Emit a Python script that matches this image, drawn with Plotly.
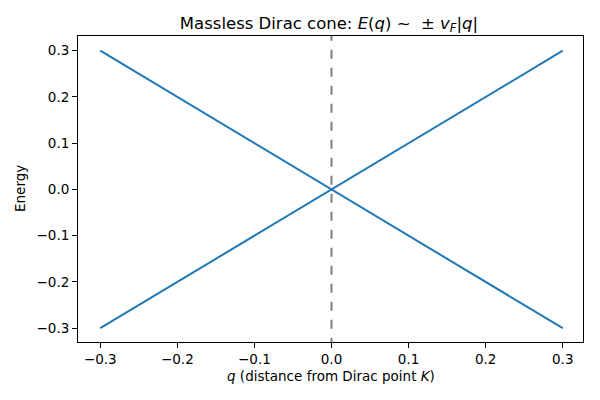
import plotly.graph_objects as go

q = [-0.3, 0.0, 0.3]
E_upper = [-0.3, 0.0, 0.3]
E_lower = [0.3, 0.0, -0.3]
vline_q = [0.0, 0.0]
vline_E = [-0.34, 0.34]
ticks = [-0.3, -0.2, -0.1, 0.0, 0.1, 0.2, 0.3]

fig = go.Figure()
fig.add_trace(go.Scatter(x=q, y=E_upper, mode="lines", line=dict(color="#1f77b4", width=2), showlegend=False))
fig.add_trace(go.Scatter(x=q, y=E_lower, mode="lines", line=dict(color="#1f77b4", width=2), showlegend=False))
fig.add_trace(go.Scatter(x=vline_q, y=vline_E, mode="lines", line=dict(color="grey", width=2, dash="dash"), showlegend=False))

font = dict(family="DejaVu Sans", size=13.5, color="black")
axis_common = dict(
    tickvals=ticks, tickformat=".1f", automargin=False,
    showgrid=False, zeroline=False, showline=True, linecolor="black", linewidth=1,
    mirror=True, ticks="outside", ticklen=5, tickcolor="black",
    tickfont=font,
)
fig.update_layout(
    width=600, height=400,
    margin=dict(l=70, r=25, t=28, b=66),
    plot_bgcolor="white", paper_bgcolor="white",
    title=dict(
        text="Massless Dirac cone: <i>E</i>(<i>q</i>) ~  ± <i>v</i><sub><i>F</i></sub>|<i>q</i>|",
        x=0.535, xanchor="center", xref="container", y=1 - 15 / 400, yref="container", yanchor="middle",
        automargin=False,
        font=dict(family="DejaVu Sans", size=16.5, color="black"),
    ),
    xaxis=dict(axis_common, range=[-0.3289, 0.3263]),
    yaxis=dict(axis_common, range=[-0.3299, 0.3318]),
    annotations=[
        dict(
            text="Energy", textangle=-90, font=font, showarrow=False,
            xref="paper", yref="paper", x=(12 - 70) / 505, y=0.5, xanchor="center", yanchor="middle",
        ),
        dict(
            text="<i>q</i> (distance from Dirac point <i>K</i>)", font=font, showarrow=False,
            xref="paper", yref="paper", x=0.5, y=-(368 - 334) / 306, xanchor="center", yanchor="middle",
        ),
    ],
)
fig.write_html("out.html")
